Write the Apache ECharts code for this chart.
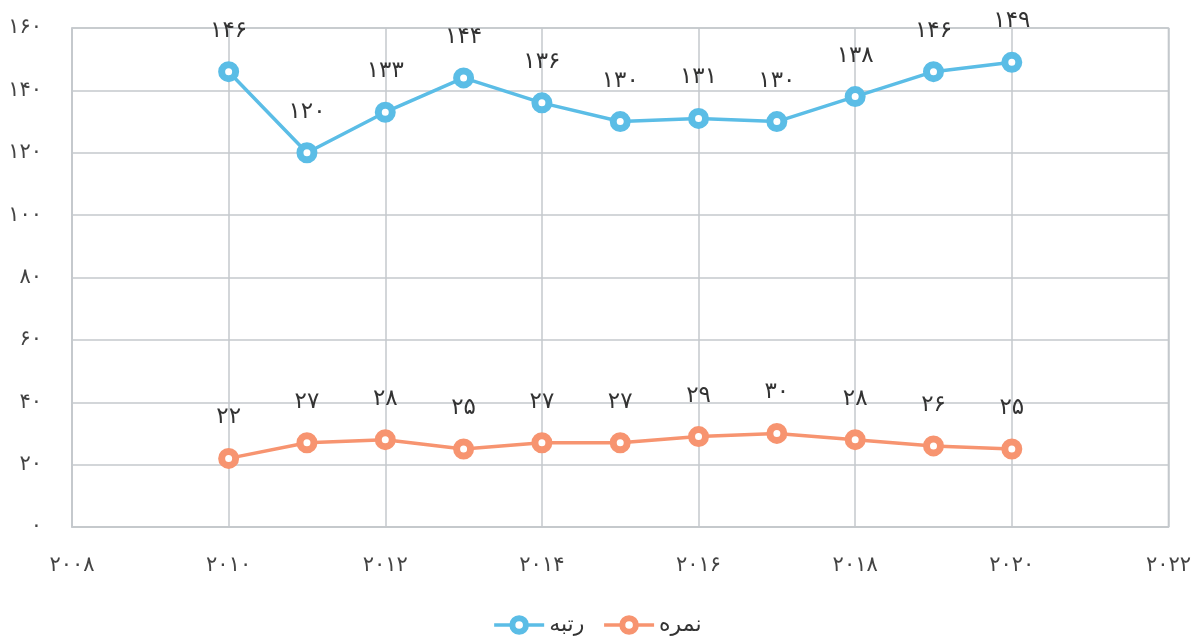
<!DOCTYPE html>
<html>
<head>
<meta charset="utf-8">
<script src="https://cdn.jsdelivr.net/npm/echarts@6/dist/echarts.min.js"></script>
<style>
  html, body { margin: 0; padding: 0; background: #fff; }
  #chart { width: 1194px; height: 637px; }
</style>
</head>
<body>
<div id="chart"></div>
<script>
// Years on the horizontal axis
const years = [2010, 2011, 2012, 2013, 2014, 2015, 2016, 2017, 2018, 2019, 2020];
// Rank per year
const rankValues = [146, 120, 133, 144, 136, 130, 131, 130, 138, 146, 149];
// Score per year
const scoreValues = [22, 27, 28, 25, 27, 27, 29, 30, 28, 26, 25];
// Series names
const seriesNames = ['رتبه', 'نمره'];

const FA_DIGITS = '۰۱۲۳۴۵۶۷۸۹';
function toFa(n) {
  return String(n).replace(/[0-9]/g, d => FA_DIGITS[+d]);
}

const FONT = "'DejaVu Sans', sans-serif";
const BLUE = '#5bbde6';
const ORANGE = '#f79470';

function pairs(vals) {
  return years.map((y, i) => [y, vals[i]]);
}

function makeSeries(name, vals, color) {
  return {
    name: name,
    type: 'line',
    data: pairs(vals),
    symbol: 'circle',
    symbolSize: 14,
    showAllSymbol: true,
    lineStyle: { color: color, width: 3.5 },
    itemStyle: { color: '#ffffff', borderColor: color, borderWidth: 7 },
    label: {
      show: true,
      position: 'top',
      distance: 19,
      color: '#333',
      fontSize: 23,
      fontFamily: FONT,
      formatter: p => toFa(p.value[1])
    },
    emphasis: { disabled: true },
    animation: false
  };
}

const chart = echarts.init(document.getElementById('chart'));
chart.setOption({
  backgroundColor: '#fff',
  animation: false,
  grid: { left: 72, right: 25, top: 28, bottom: 110, show: true, borderColor: '#c4c8cc', borderWidth: 1.5 },
  legend: {
    bottom: -4,
    left: 'center',
    data: [
      { name: seriesNames[0], itemStyle: { color: '#fff', borderColor: BLUE, borderWidth: 6 }, lineStyle: { color: BLUE, width: 3.5 } },
      { name: seriesNames[1], itemStyle: { color: '#fff', borderColor: ORANGE, borderWidth: 6 }, lineStyle: { color: ORANGE, width: 3.5 } }
    ],
    itemWidth: 50,
    itemHeight: 17,
    itemGap: 18,
    textStyle: { fontFamily: FONT, fontSize: 22, color: '#333' }
  },
  xAxis: {
    type: 'value',
    min: 2008,
    max: 2022,
    interval: 2,
    axisLine: { show: true, lineStyle: { color: '#c4c8cc', width: 1.5 } },
    axisTick: { show: false },
    splitLine: { show: true, lineStyle: { color: '#c4c8cc', width: 1.5 } },
    axisLabel: {
      margin: 28,
      color: '#444',
      fontSize: 21,
      fontFamily: FONT,
      formatter: v => toFa(v)
    }
  },
  yAxis: {
    type: 'value',
    min: 0,
    max: 160,
    interval: 20,
    axisLine: { show: true, lineStyle: { color: '#c4c8cc', width: 1.5 } },
    axisTick: { show: false },
    splitLine: { show: true, lineStyle: { color: '#c4c8cc', width: 1.5 } },
    axisLabel: {
      margin: 30,
      color: '#444',
      fontSize: 21,
      fontFamily: FONT,
      formatter: v => toFa(v)
    }
  },
  series: [
    makeSeries(seriesNames[0], rankValues, BLUE),
    makeSeries(seriesNames[1], scoreValues, ORANGE)
  ]
});
</script>
</body>
</html>
